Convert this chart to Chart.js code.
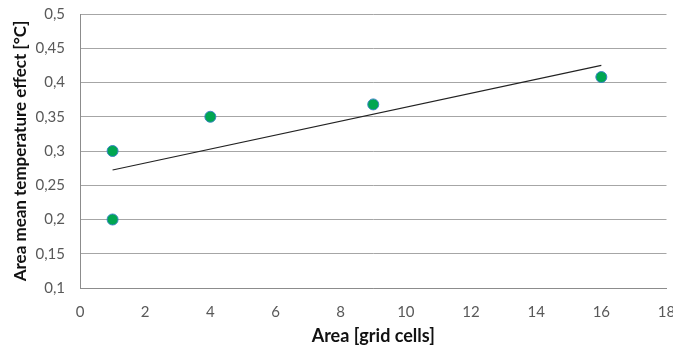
<!DOCTYPE html>
<html><head><meta charset="utf-8">
<script src="https://cdn.jsdelivr.net/npm/chart.js@4"></script>
<style>html,body{margin:0;padding:0;background:#fff}#w{width:673px;height:347px}</style>
</head><body><div id="w"><canvas id="c" width="673" height="347"></canvas></div>
<script>
const areaCells = [1, 1, 4, 9, 16];
const tempEffect = [0.30, 0.20, 0.35, 0.368, 0.408];
const xTicks = [0, 2, 4, 6, 8, 10, 12, 14, 16, 18];
const yTicks = [0.1, 0.15, 0.2, 0.25, 0.3, 0.35, 0.4, 0.45, 0.5];
const xTitle = 'Area [grid cells]';
const yTitle = 'Area mean temperature effect [°C]';

// linear least-squares trend from data
const n = areaCells.length;
const mx = areaCells.reduce((a,b)=>a+b,0)/n;
const my = tempEffect.reduce((a,b)=>a+b,0)/n;
let sxy=0, sxx=0;
for(let i=0;i<n;i++){sxy+=(areaCells[i]-mx)*(tempEffect[i]-my);sxx+=(areaCells[i]-mx)**2;}
const slope=sxy/sxx, icpt=my-slope*mx;
const xmin=Math.min(...areaCells), xmax=Math.max(...areaCells);
const trend=[{x:xmin,y:icpt+slope*xmin},{x:xmax,y:icpt+slope*xmax}];

const font = "Lato, 'Open Sans', sans-serif";
new Chart(document.getElementById('c'), {
  type: 'scatter',
  data: {
    datasets: [
      {type:'line', data: trend, borderColor:'#222', borderWidth:1.2, pointRadius:0, fill:false, order:2},
      {data: areaCells.map((x,i)=>({x, y:tempEffect[i]})), backgroundColor:'#00a651', borderColor:'#3a84c4', borderWidth:1, pointRadius:5.5, order:1}
    ]
  },
  options: {
    responsive:false, animation:false,
    layout:{padding:{top:14,right:6,left:0,bottom:0}},
    plugins:{legend:{display:false}, tooltip:{enabled:false}},
    scales:{
      x:{type:'linear', min:0, max:18,
        afterBuildTicks:s=>{s.ticks=xTicks.map(v=>({value:v}));},
        afterFit:s=>{s.height=59; s.paddingLeft=0; s.paddingRight=0;},
        grid:{display:false, drawTicks:false},
        border:{display:true, color:'#8c8c8c', width:1},
        ticks:{color:'#595959', font:{family:font,size:15}, padding:15, maxRotation:0},
        title:{display:true, text:xTitle, color:'#111', font:{family:font,size:18,weight:'bold'}, padding:{top:0,bottom:0}}
      },
      y:{type:'linear', min:0.1, max:0.5,
        afterBuildTicks:s=>{s.ticks=yTicks.map(v=>({value:v}));},
        afterFit:s=>{s.width=80; s.paddingTop=0; s.paddingBottom=0;},
        grid:{color:'#a6a6a6', lineWidth:1, drawTicks:false},
        border:{display:true, color:'#8c8c8c', width:1},
        ticks:{color:'#595959', font:{family:font,size:15}, padding:15,
          callback:v=>String(Math.round(v*100)/100).replace('.',',')},
        title:{display:true, text:yTitle, color:'#111', font:{family:font,size:17,weight:'bold'}, padding:{top:10,bottom:0}}
      }
    }
  }
});
</script></body></html>
